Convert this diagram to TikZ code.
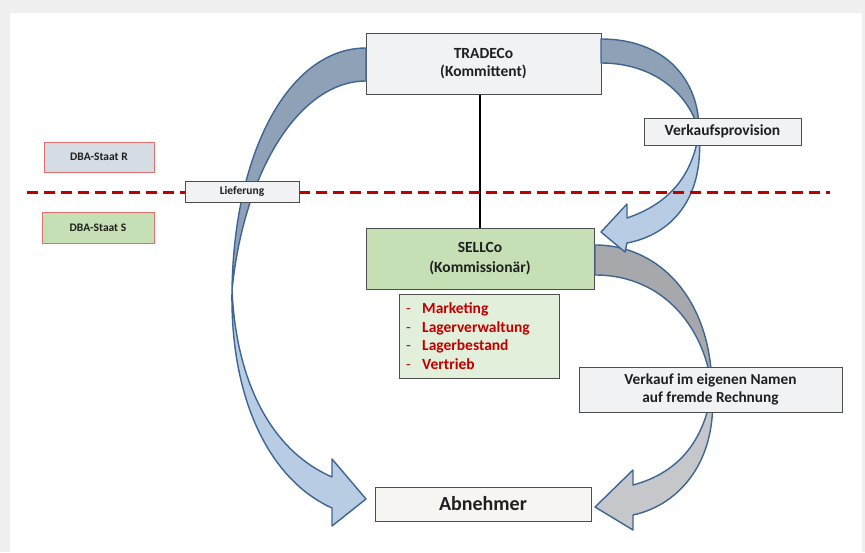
\documentclass[tikz,border=0pt]{standalone}
\usepackage{fontspec}
\setmainfont{Carlito}
\definecolor{bgc}{HTML}{EFEFEF}
\definecolor{boxline}{HTML}{4D4D4D}
\definecolor{boxgrey}{HTML}{F1F2F4}
\definecolor{boxgreen}{HTML}{C6DFB4}
\definecolor{listgreen}{HTML}{E2EFDA}
\definecolor{dbar}{HTML}{D6DCE4}
\definecolor{dbaline}{HTML}{E07070}
\definecolor{abn}{HTML}{F6F5F2}
\definecolor{txt}{HTML}{1F1F1F}
\definecolor{redtxt}{HTML}{C00000}
\definecolor{arrline}{HTML}{3E6592}
\definecolor{bluedark}{HTML}{8FA1B6}
\definecolor{bluelight}{HTML}{B8CCE4}
\definecolor{greydark}{HTML}{A6A8AC}
\definecolor{greylight}{HTML}{C5C7CA}
\tikzset{
  box/.style={draw=boxline, line width=1pt, fill=boxgrey, inner sep=0pt, align=center, text=txt, font=\bfseries},
  dbabox/.style={draw=dbaline, line width=0.9pt, inner sep=0pt, align=center, text=txt, font=\bfseries\fontsize{11.5}{13}\selectfont},
  arrback/.style={draw=arrline, line width=1.4pt, line join=round},
}
\begin{document}
\begin{tikzpicture}[x=1pt,y=-1pt]
\useasboundingbox (0,0) rectangle (865,552);
\fill[bgc] (0,0) rectangle (865,552);
\fill[white] (10,13) rectangle (862,552);

\node[box, minimum width=235pt, minimum height=61pt, font=\bfseries\fontsize{15.5}{18}\selectfont] (trade) at (483.5,63.5) {TRADECo\\(Kommittent)};
\node[box, fill=boxgreen, minimum width=228pt, minimum height=61pt, font=\bfseries\fontsize{15.5}{19.5}\selectfont] (sell) at (480,258.5) {SELLCo\\(Kommissionär)};
\draw[line width=1.2pt, black] (sell.north |- trade.south) -- (sell.north);

% grey arrow (Verkauf)
\fill[greydark, arrback] (595,245) .. controls (660,245) and (712,300) .. (712,390)
  .. controls (706,330) and (665,275) .. (595,275) -- cycle;
\fill[greylight, arrback] (712,390) .. controls (718,460) and (680,505) .. (633,515)
  -- (633,530) -- (595,507) -- (633,470) -- (633,485)
  .. controls (670,475) and (703,450) .. (712,390) -- cycle;

% blue arrow (Verkaufsprovision)
\fill[bluedark, arrback] (601,39) .. controls (665,39) and (700,80) .. (699,132)
  .. controls (690,95) and (655,63) .. (601,63) -- cycle;
\fill[bluelight, arrback] (699,132) .. controls (705,200) and (670,235) .. (627,243)
  -- (625,252) -- (601,232) -- (627,204) -- (627,218)
  .. controls (665,205) and (692,180) .. (699,132) -- cycle;

% left arrow (Lieferung)
\fill[bluedark, arrback] (366,48) .. controls (290,48) and (234,150) .. (232,290)
  .. controls (244,170) and (300,81) .. (366,81) -- cycle;
\fill[bluelight, arrback] (232,290) .. controls (230,400) and (270,480) .. (332,508)
  -- (332,526) -- (366,499) -- (332,459) -- (332,477)
  .. controls (270,450) and (236,380) .. (232,290) -- cycle;

% dashed border line
\coordinate (dl) at (27,192);
\coordinate (dr) at (830,192);
\draw[redtxt, line width=3pt, dash pattern=on 11pt off 6pt] (dl) -- (dr);

% boxes
\node[box, minimum width=114pt, minimum height=21pt, font=\bfseries\fontsize{11.5}{13}\selectfont] (lief) at (242,191.5) {Lieferung};
\node[dbabox, fill=dbar, minimum width=110pt, minimum height=30pt] (dbar) at (99,157) {DBA-Staat R};
\node[dbabox, fill=boxgreen, minimum width=112pt, minimum height=31pt] (dbas) at (98,227.5) {DBA-Staat S};
\node[box, minimum width=157pt, minimum height=27pt, font=\bfseries\fontsize{15.5}{17}\selectfont] (prov) at (722.5,131.5) {Verkaufsprovision};
\node[box, minimum width=263pt, minimum height=45pt, font=\bfseries\fontsize{15.3}{18}\selectfont] (verk) at (710.5,389.5) {Verkauf im eigenen Namen\\auf fremde Rechnung};
\node[box, fill=abn, minimum width=216pt, minimum height=34pt, font=\bfseries\fontsize{20}{22}\selectfont] (abn) at (483,504) {Abnehmer};
\node[box, fill=listgreen, minimum width=160pt, minimum height=84pt] (list) at (479,336) {};
\node[anchor=west, inner sep=0pt, align=left, text=redtxt, font=\fontsize{15.5}{18.6}\selectfont] (items) at (406,336)
  {\makebox[16pt][l]{-}\textbf{Marketing}\\
   \makebox[16pt][l]{-}\textbf{Lagerverwaltung}\\
   \makebox[16pt][l]{-}\textbf{Lagerbestand}\\
   \makebox[16pt][l]{-}\textbf{Vertrieb}};
\end{tikzpicture}
\end{document}
